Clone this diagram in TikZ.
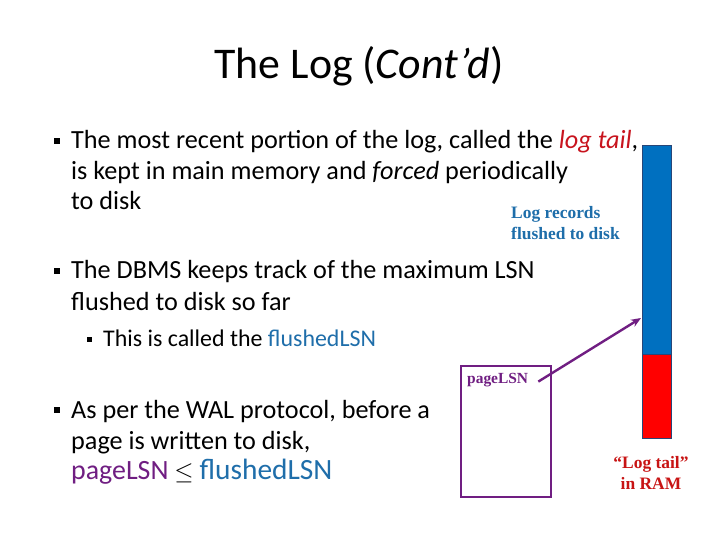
\documentclass[tikz,border=0pt]{standalone}
\usepackage{fontspec}
\setmainfont{Carlito}
\newfontfamily\tms{Liberation Serif}
\usetikzlibrary{arrows.meta}
\definecolor{logred}{RGB}{200,20,30}
\definecolor{lsnblue}{RGB}{31,110,170}
\definecolor{lsnpurple}{RGB}{112,30,130}
\definecolor{barblue}{RGB}{0,112,192}
\definecolor{baredge}{RGB}{40,70,120}
\definecolor{lblblue}{RGB}{30,110,170}
\definecolor{tailred}{RGB}{200,20,20}
\begin{document}
\begin{tikzpicture}[x=1bp,y=-1bp,
  txt/.style={anchor=base west,inner sep=0pt,font=\fontsize{26.3}{30}\selectfont},
  subtxt/.style={anchor=base west,inner sep=0pt,font=\fontsize{24}{28}\selectfont},
  lbl/.style={inner sep=0pt,font=\tms\bfseries\fontsize{17.5}{21.5}\selectfont,align=center},
  bul/.style={fill=black,minimum size=6bp,inner sep=0pt},
  subbul/.style={fill=black,minimum size=5bp,inner sep=0pt}]
\useasboundingbox (0,0) rectangle (720,540);
\fill[white] (0,0) rectangle (720,540);
% title
\node[anchor=base,inner sep=0pt,font=\fontsize{44}{52}\selectfont] (title) at (359,79) {The Log (\textit{Cont’d})};
% bullet 1
\node[bul] (b1) at (57,141) {};
\node[txt] (l11) at (71,149) {The most recent portion of the log, called the \textcolor{logred}{\textit{log tail}},};
\node[txt] (l12) at (71,180) {is kept in main memory and \textit{forced} periodically};
\node[txt] (l13) at (71,210) {to disk};
% bullet 2
\node[bul] (b2) at (57,271) {};
\node[txt] (l21) at (71,279) {The DBMS keeps track of the maximum LSN};
\node[txt] (l22) at (71,310) {flushed to disk so far};
% sub-bullet
\node[subbul] (s1) at (89,339) {};
\node[subtxt] (l31) at (103,346) {This is called the \textcolor{lsnblue}{flushedLSN}};
% bullet 3
\node[bul] (b3) at (57,410) {};
\node[txt] (l41) at (71,418) {As per the WAL protocol, before a};
\node[txt] (l42) at (71,449) {page is written to disk,};
\node[txt] (l43) at (71,479) {\textcolor{lsnpurple}{\fontsize{28}{30}\selectfont pageLSN} $\le$ \textcolor{lsnblue}{\fontsize{29.5}{30}\selectfont flushedLSN}};
% log bar
\draw[baredge,fill=barblue,line width=0.8pt] (642,145) rectangle (671,354);
\draw[baredge,fill=red,line width=0.8pt] (642,354) rectangle (671,438);
\coordinate (flushpt) at (641,318);
\node[lbl,text=lblblue,anchor=north west,align=left] (recs) at (511,206) {Log records\\flushed to disk};
\node[lbl,text=tailred,anchor=north] (tail) at (651,456) {“Log tail”\\in RAM};
% page box
\draw[lsnpurple,line width=1.5pt] (461,366) rectangle (551,497);
\node[inner sep=0pt,anchor=base west,text=lsnpurple,font=\tms\bfseries\fontsize{15.5}{18}\selectfont] (plsn) at (467,383) {pageLSN};
\draw[lsnpurple,line width=2.4pt,-{Stealth[length=10bp,width=8bp]}] (plsn.east) ++(10,2) coordinate (pstart) -- (flushpt);
\end{tikzpicture}
\end{document}
